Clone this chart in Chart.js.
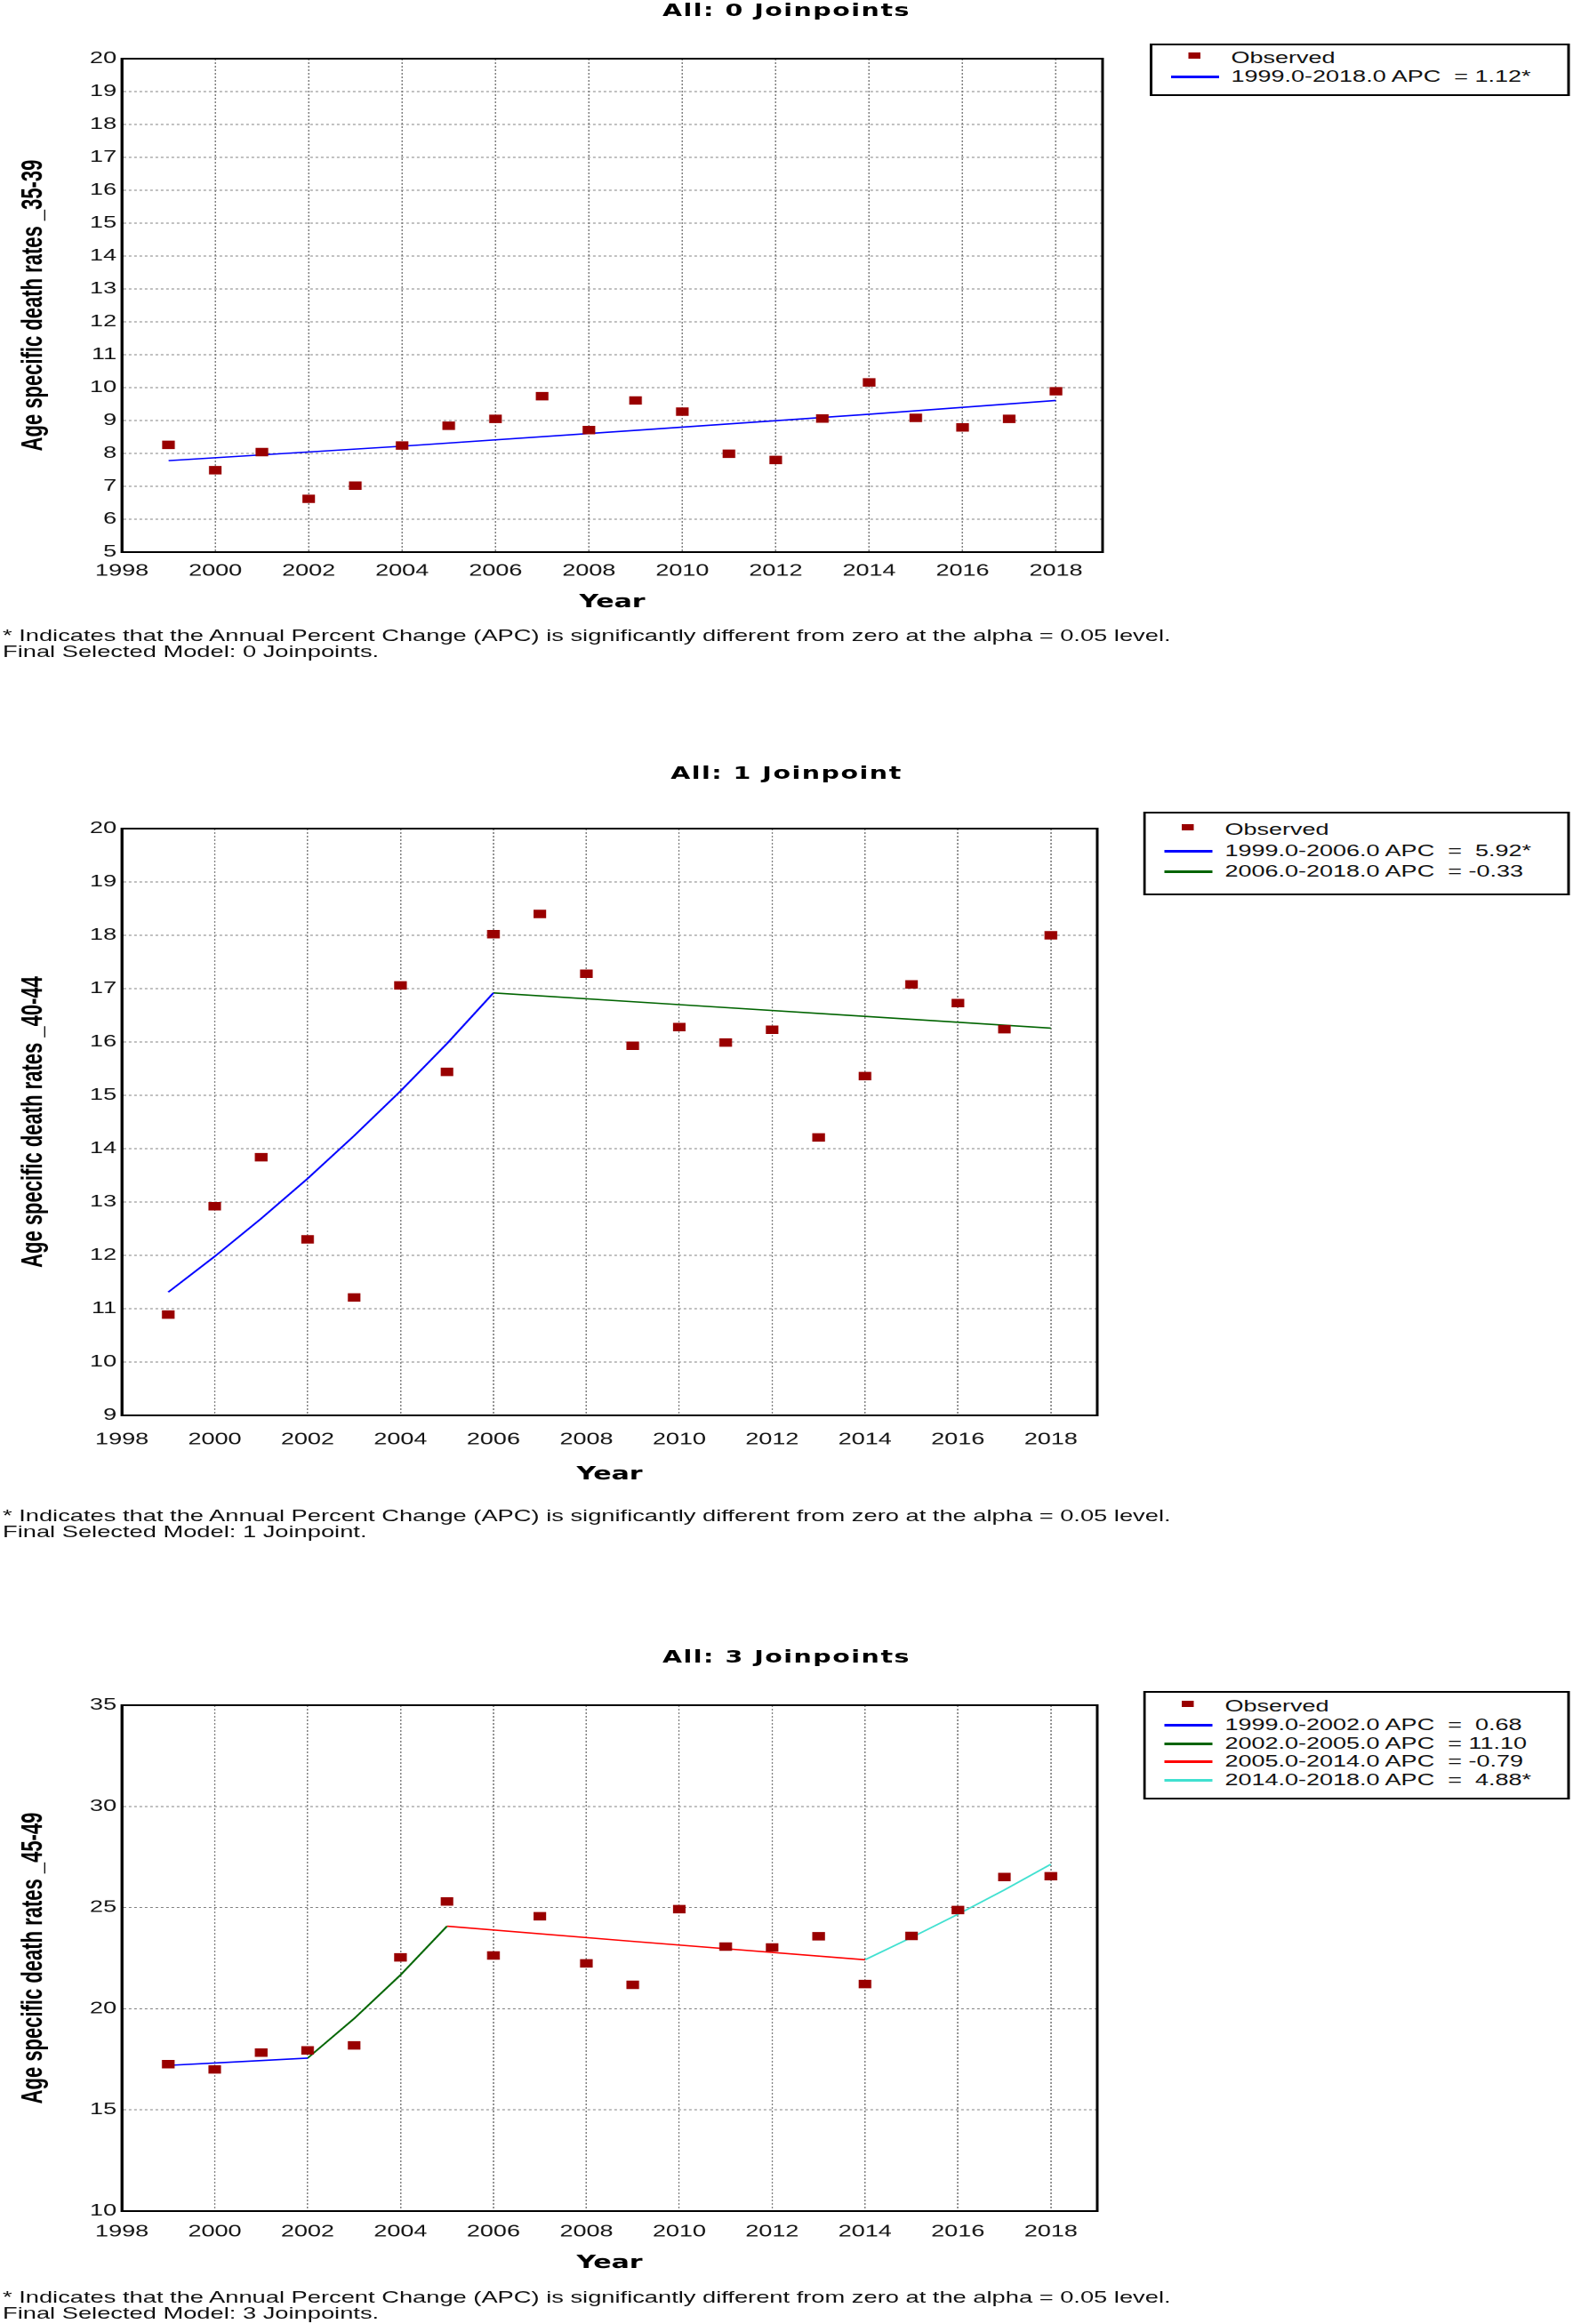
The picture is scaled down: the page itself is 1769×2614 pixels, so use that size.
<!DOCTYPE html>
<html>
<head>
<meta charset="utf-8">
<title>Joinpoint - age specific death rates</title>
<script src="https://cdn.jsdelivr.net/npm/chart.js@4.4.1/dist/chart.umd.min.js"></script>
<style>
  html, body { margin: 0; padding: 0; background: #fff; }
  body { width: 1769px; height: 2614px; overflow: hidden; position: relative; }
  /* the source picture is stretched sideways, so the whole page is too */
  #page { position: absolute; left: 0; top: 0; width: 1179.33px; height: 2614px;
          transform: scaleX(1.5); transform-origin: 0 0;
          font-family: "Liberation Sans", Arial, sans-serif; color: #111; }
  .title { position: absolute; left: 0; width: 100%; text-align: center; line-height: 22px;
           font: bold 19px "DejaVu Sans", sans-serif; letter-spacing: 1px; color: #000; }
  .box { position: absolute; left: 0; width: 1179.33px; }
  .legend { position: absolute; border: 2px solid #000; box-sizing: border-box; background: #fff; }
  .legend .row { position: absolute; left: 0; right: 0; height: 20px; }
  .legend .txt { position: absolute; left: 59px; top: 0; font-size: 18px; line-height: 20px; white-space: pre; color: #111; }
  .legend .mark { position: absolute; left: 27px; top: 4px; width: 9px; height: 7px; }
  .legend .line { position: absolute; left: 14px; top: 9px; width: 36px; height: 3px; }
  .note { position: absolute; left: 2px; font-size: 18.2px; line-height: 18px; white-space: pre; color: #111; }
</style>
</head>
<body>
<div id="page"></div>
<script>
// ---- data ----
const years = [1999, 2000, 2001, 2002, 2003, 2004, 2005, 2006, 2007, 2008,
               2009, 2010, 2011, 2012, 2013, 2014, 2015, 2016, 2017, 2018];
const xTicks = [1998, 2000, 2002, 2004, 2006, 2008, 2010, 2012, 2014, 2016, 2018];

// 35-39
const obs3539 = [8.26, 7.49, 8.04, 6.62, 7.02, 8.24, 8.84, 9.05, 9.74, 8.71,
                 9.61, 9.27, 7.99, 7.80, 9.06, 10.16, 9.08, 8.79, 9.05, 9.89];
const fitYears3539 = [1999, 2004, 2009, 2014, 2018];
const fit3539 = [7.78, 8.22, 8.70, 9.19, 9.61];
const yTicks3539 = [5, 6, 7, 8, 9, 10, 11, 12, 13, 14, 15, 16, 17, 18, 19, 20];
const labels3539 = ['Observed', '1999.0-2018.0 APC  = 1.12*'];

// 40-44
const obs4044 = [10.89, 12.92, 13.84, 12.30, 11.21, 17.06, 15.44, 18.02, 18.40, 17.28,
                 15.93, 16.28, 15.99, 16.23, 14.21, 15.36, 17.08, 16.73, 16.24, 18.00];
const segAYears4044 = [1999, 2000, 2001, 2002, 2003, 2004, 2005, 2006];
const segA4044 = [11.31, 11.98, 12.69, 13.44, 14.24, 15.08, 15.97, 16.92];
const segBYears4044 = [2006, 2010, 2014, 2018];
const segB4044 = [16.92, 16.70, 16.48, 16.26];
const yTicks4044 = [9, 10, 11, 12, 13, 14, 15, 16, 17, 18, 19, 20];
const labels4044 = ['Observed', '1999.0-2006.0 APC  =  5.92*', '2006.0-2018.0 APC  = -0.33'];

// 45-49
const obs4549 = [17.26, 17.00, 17.83, 17.94, 18.19, 22.54, 25.30, 22.63, 24.57, 22.24,
                 21.18, 24.92, 23.07, 23.03, 23.58, 21.22, 23.60, 24.88, 26.51, 26.55];
const segAYears4549 = [1999, 2000, 2001, 2002];
const segA4549 = [17.20, 17.32, 17.44, 17.56];
const segBYears4549 = [2002, 2003, 2004, 2005];
const segB4549 = [17.56, 19.51, 21.67, 24.08];
const segCYears4549 = [2005, 2009, 2014];
const segC4549 = [24.08, 23.33, 22.42];
const segDYears4549 = [2014, 2015, 2016, 2017, 2018];
const segD4549 = [22.42, 23.52, 24.67, 25.87, 27.14];
const yTicks4549 = [10, 15, 20, 25, 30, 35];
const labels4549 = ['Observed', '1999.0-2002.0 APC  =  0.68', '2002.0-2005.0 APC  = 11.10',
                    '2005.0-2014.0 APC  = -0.79', '2014.0-2018.0 APC  =  4.88*'];

const note1 = '* Indicates that the Annual Percent Change (APC) is significantly different from zero at the alpha = 0.05 level.';

// ---- layout ----
const PAGE_W = 1179.33;
const PLOT_LEFT = 91.33;

const panels = [
  { title: 'All: 0 Joinpoints', titleTop: 0, canvasTop: 30, plotTop: 66, plotBottom: 621, plotRight: 826.7,
    xh: 69, tickPad: 10.5, yTitle: 'Age specific death rates _35-39',
    yTicks: yTicks3539, observed: obs3539, labels: labels3539,
    segments: [{ x: fitYears3539, y: fit3539 }], colors: ['#0000ff'],
    legend: { left: 862, top: 49, w: 314.7, h: 59, rows: [16, 37] },
    noteTop: 706, note2: 'Final Selected Model: 0 Joinpoints.' },
  { title: 'All: 1 Joinpoint', titleTop: 858, canvasTop: 895, plotTop: 932, plotBottom: 1592, plotRight: 822.7,
    xh: 79, tickPad: 16.5, yTitle: 'Age specific death rates _40-44',
    yTicks: yTicks4044, observed: obs4044, labels: labels4044,
    segments: [{ x: segAYears4044, y: segA4044 }, { x: segBYears4044, y: segB4044 }],
    colors: ['#0000ff', '#006400'],
    legend: { left: 857.3, top: 913, w: 320, h: 94, rows: [20, 44, 67] },
    noteTop: 1696, note2: 'Final Selected Model: 1 Joinpoint.' },
  { title: 'All: 3 Joinpoints', titleTop: 1852, canvasTop: 1880, plotTop: 1918, plotBottom: 2487, plotRight: 822.7,
    xh: 71, tickPad: 12.5, yTitle: 'Age specific death rates _45-49',
    yTicks: yTicks4549, observed: obs4549, labels: labels4549,
    segments: [{ x: segAYears4549, y: segA4549 }, { x: segBYears4549, y: segB4549 },
               { x: segCYears4549, y: segC4549 }, { x: segDYears4549, y: segD4549 }],
    colors: ['#0000ff', '#006400', '#ff0000', '#40e0d0'],
    legend: { left: 857.3, top: 1902, w: 320, h: 122, rows: [17, 38, 59, 79, 100] },
    noteTop: 2575, note2: 'Final Selected Model: 3 Joinpoints.' }
];

// black frame round the plot area
const frame = {
  id: 'frame',
  beforeDatasetsDraw(chart) {
    const a = chart.chartArea, ctx = chart.ctx;
    ctx.save();
    ctx.strokeStyle = '#000';
    ctx.lineWidth = 2;
    ctx.strokeRect(a.left, a.top, a.right - a.left, a.bottom - a.top);
    ctx.restore();
  }
};

function pts(xs, ys) {
  return xs.map((x, i) => ({ x: x, y: ys[i] }));
}

const page = document.getElementById('page');

function drawPanel(p) {
  // title
  let t = document.createElement('div');
  t.className = 'title';
  t.style.top = p.titleTop + 'px';
  t.textContent = p.title;
  page.appendChild(t);

  // chart
  let box = document.createElement('div');
  box.className = 'box';
  box.style.top = p.canvasTop + 'px';
  box.style.height = (p.plotBottom - p.canvasTop + p.xh) + 'px';
  let cv = document.createElement('canvas');
  box.appendChild(cv);
  page.appendChild(box);

  let datasets = [{
    label: p.labels[0], data: pts(years, p.observed),
    pointStyle: 'rect', pointRadius: 6.7, pointHoverRadius: 6.7,
    backgroundColor: '#990000', borderColor: '#990000', borderWidth: 0, order: 0
  }];
  p.segments.forEach((s, i) => {
    datasets.push({
      label: p.labels[i + 1], data: pts(s.x, s.y), showLine: true,
      pointRadius: 0, borderColor: p.colors[i], backgroundColor: p.colors[i],
      borderWidth: 1.6, tension: 0, order: 1
    });
  });

  const gridOpts = { color: '#808080', lineWidth: 1, drawTicks: false };
  const borderOpts = { color: '#000', width: 2, dash: [2, 2] };

  new Chart(cv, {
    type: 'scatter',
    data: { datasets: datasets },
    options: {
      responsive: true,
      maintainAspectRatio: false,
      animation: false,
      devicePixelRatio: 2,
      layout: { padding: { top: p.plotTop - p.canvasTop, right: PAGE_W - p.plotRight, bottom: 0, left: 0 } },
      plugins: { legend: { display: false }, tooltip: { enabled: false } },
      scales: {
        x: {
          type: 'linear', min: 1998, max: 2019,
          afterBuildTicks: s => { s.ticks = xTicks.map(v => ({ value: v })); },
          afterFit: s => { s.height = p.xh; },
          grid: gridOpts, border: borderOpts,
          ticks: { padding: p.tickPad, font: { size: 18 }, color: '#111',
                   autoSkip: false, maxRotation: 0, callback: v => String(v) },
          title: { display: true, text: 'Year', color: '#000', padding: 0,
                   font: { family: '"DejaVu Sans", sans-serif', weight: 'bold', size: 20 } }
        },
        y: {
          type: 'linear', min: p.yTicks[0], max: p.yTicks[p.yTicks.length - 1],
          afterBuildTicks: s => { s.ticks = p.yTicks.map(v => ({ value: v })); },
          afterFit: s => { s.width = PLOT_LEFT; },
          grid: gridOpts, border: borderOpts,
          ticks: { padding: 4, font: { size: 18 }, color: '#111', callback: v => String(v) },
          title: { display: true, text: p.yTitle, color: '#000', padding: { top: 12, bottom: 0 },
                   font: { family: '"Liberation Sans", Arial, sans-serif', weight: 'bold', size: 22 } }
        }
      }
    },
    plugins: [frame]
  });

  // legend box, built from the datasets
  let lg = document.createElement('div');
  lg.className = 'legend';
  lg.style.left = p.legend.left + 'px';
  lg.style.top = p.legend.top + 'px';
  lg.style.width = p.legend.w + 'px';
  lg.style.height = p.legend.h + 'px';
  datasets.forEach((d, i) => {
    let row = document.createElement('div');
    row.className = 'row';
    row.style.top = (p.legend.rows[i] - 12) + 'px';
    let sw = document.createElement('div');
    sw.className = i === 0 ? 'mark' : 'line';
    sw.style.background = d.borderColor;
    let tx = document.createElement('div');
    tx.className = 'txt';
    tx.textContent = d.label;
    row.appendChild(sw);
    row.appendChild(tx);
    lg.appendChild(row);
  });
  page.appendChild(lg);

  // footnote
  let n = document.createElement('div');
  n.className = 'note';
  n.style.top = p.noteTop + 'px';
  n.textContent = note1 + '\n' + p.note2;
  page.appendChild(n);
}

Chart.defaults.font.family = '"Liberation Sans", Arial, sans-serif';
panels.forEach(drawPanel);
</script>
</body>
</html>
